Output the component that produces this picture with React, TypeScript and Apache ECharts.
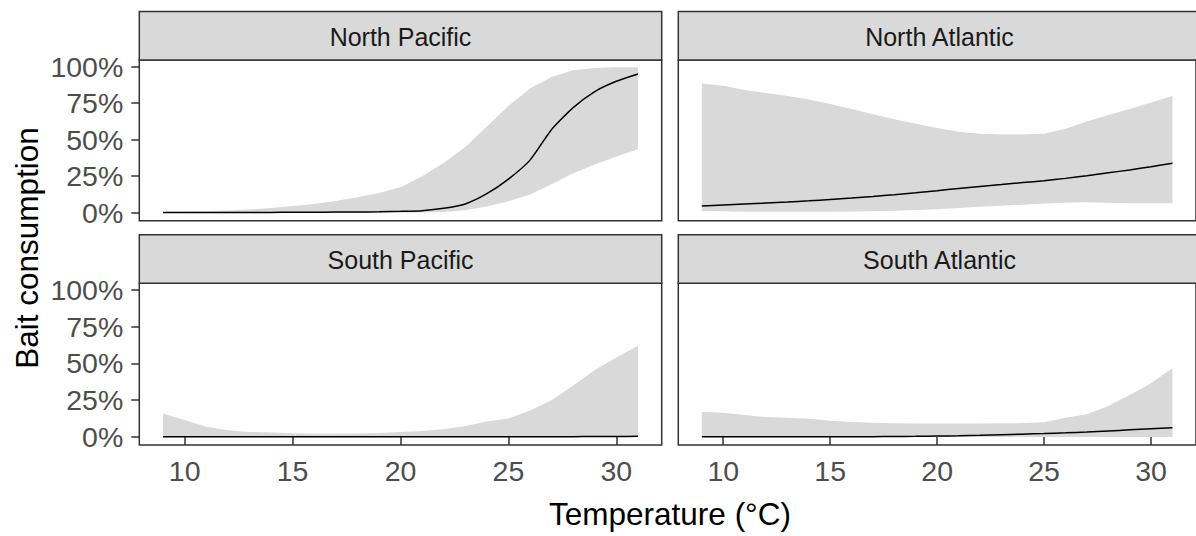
import React, { useEffect, useRef } from "react";
import * as echarts from "echarts";

// Temperature grid (°C) shared by every panel
const TEMPS = [9, 10, 11, 12, 13, 14, 15, 16, 17, 18, 19, 20, 21, 22, 23, 24, 25, 26, 27, 28, 29, 30, 31];

// Fitted bait consumption (%) and 95% interval per ocean basin
const NP_FIT = [0.1, 0.1, 0.1, 0.15, 0.2, 0.2, 0.3, 0.3, 0.4, 0.5, 0.6, 0.9, 1.4, 3, 6, 13, 23, 36, 57, 72, 83, 90, 95];
const NP_LO = [0, 0, 0, 0, 0, 0, 0, 0, 0, 0, 0, 0, 0.1, 0.5, 1.7, 4.2, 7.8, 12.5, 19.5, 27, 33, 38.5, 43.5];
const NP_HI = [0.5, 0.8, 1.0, 1.5, 2.2, 3.2, 4.5, 6, 8, 10.5, 13.5, 17.5, 25, 34, 45, 59, 73, 85, 93, 97.5, 99.2, 99.6, 99.7];

const NA_FIT = [4.5, 5.2, 5.9, 6.6, 7.3, 8.1, 9, 10, 11.1, 12.3, 13.6, 15, 16.6, 18, 19.3, 20.6, 21.9, 23.5, 25.3, 27.3, 29.3, 31.5, 33.8];
const NA_LO = [1.2, 0.9, 0.7, 0.6, 0.6, 0.6, 0.7, 0.8, 1.0, 1.3, 1.8, 2.4, 3.2, 4.0, 4.8, 5.5, 6.2, 6.8, 7.2, 6.8, 6.5, 6.4, 6.4];
const NA_HI = [88.5, 87, 84, 82, 80, 77.5, 74.5, 71, 67.5, 64, 61, 58, 55.5, 54, 53.5, 53.5, 54, 57.5, 62.5, 67, 71, 75.5, 80];

const SP_FIT = [0.1, 0.1, 0.1, 0.1, 0.1, 0.1, 0.1, 0.1, 0.1, 0.1, 0.1, 0.1, 0.1, 0.1, 0.1, 0.1, 0.1, 0.15, 0.2, 0.2, 0.3, 0.3, 0.4];
const SP_LO = [0, 0, 0, 0, 0, 0, 0, 0, 0, 0, 0, 0, 0, 0, 0, 0, 0, 0, 0, 0, 0, 0, 0];
const SP_HI = [16, 11.5, 7, 4.5, 3.4, 3, 2.5, 2.2, 2.2, 2.3, 2.6, 3.3, 4, 5.2, 7.5, 10.5, 12.5, 18, 25, 35, 45.5, 54, 62];

const SA_FIT = [0.1, 0.1, 0.1, 0.1, 0.1, 0.1, 0.1, 0.15, 0.2, 0.3, 0.4, 0.6, 0.8, 1.1, 1.5, 1.9, 2.3, 2.8, 3.4, 4.1, 4.8, 5.5, 6.2];
const SA_LO = [0, 0, 0, 0, 0, 0, 0, 0, 0, 0, 0, 0, 0, 0, 0, 0, 0, 0, 0, 0, 0, 0, 0];
const SA_HI = [17, 16.5, 15, 13.5, 13, 12.3, 11, 10.2, 9.6, 9.3, 9.1, 9.1, 9.1, 9.2, 9.3, 9.4, 10, 13, 15.5, 21, 28.5, 36.5, 47];

const PANEL_NAMES = ["North Pacific", "North Atlantic", "South Pacific", "South Atlantic"];
const X_TICKS = [10, 15, 20, 25, 30];
const Y_TICKS = [0, 25, 50, 75, 100];
const X_TITLE = "Temperature (°C)";
const Y_TITLE = "Bait consumption";

const PANELS = [
  { name: PANEL_NAMES[0], fit: NP_FIT, lo: NP_LO, hi: NP_HI },
  { name: PANEL_NAMES[1], fit: NA_FIT, lo: NA_LO, hi: NA_HI },
  { name: PANEL_NAMES[2], fit: SP_FIT, lo: SP_LO, hi: SP_HI },
  { name: PANEL_NAMES[3], fit: SA_FIT, lo: SA_LO, hi: SA_HI },
];

const FONT = "Liberation Sans, Arial, sans-serif";
const BORDER = "#333333";
const STRIP_FILL = "#D9D9D9";
const BAND_FILL = "#D9D9D9";

// facet layout (px)
const COL_LEFT = [139.3, 678.3];
const PANEL_W = 522.4;
const ROW_TOP = [60, 283.3];
const PANEL_H = [160.7, 161.7];
const STRIP_H = 48.5;

export default function App() {
  const ref = useRef<HTMLDivElement>(null);

  useEffect(() => {
    document.body.style.margin = "0";
    if (!ref.current) return;
    const chart = echarts.init(ref.current, undefined, { renderer: "svg" });

    const grids: any[] = [];
    const xAxes: any[] = [];
    const yAxes: any[] = [];
    const series: any[] = [];
    const graphics: any[] = [];

    PANELS.forEach((p, i) => {
      const col = i % 2;
      const row = Math.floor(i / 2);
      const left = COL_LEFT[col];
      const top = ROW_TOP[row];
      const h = PANEL_H[row];
      grids.push({
        left,
        top,
        width: PANEL_W,
        height: h,
        show: true,
        borderColor: BORDER,
        borderWidth: 1.5,
        backgroundColor: "transparent",
        z: 5,
      });
      const showX = row === 1;
      const showY = col === 0;
      xAxes.push({
        gridIndex: i,
        type: "value",
        min: 7.9,
        max: 32.1,
        axisLine: { show: false },
        splitLine: { show: false },
        axisTick: {
          show: showX,
          length: 8,
          customValues: X_TICKS,
          lineStyle: { color: BORDER, width: 1.5 },
        },
        axisLabel: {
          show: showX,
          customValues: X_TICKS,
          margin: 11,
          fontSize: 28.5,
          fontFamily: FONT,
          color: "#4D4D4D",
        },
      });
      yAxes.push({
        gridIndex: i,
        type: "value",
        min: -5.5,
        max: 104.6,
        axisLine: { show: false },
        splitLine: { show: false },
        axisTick: {
          show: showY,
          length: 8,
          customValues: Y_TICKS,
          lineStyle: { color: BORDER, width: 1.5 },
        },
        axisLabel: {
          show: showY,
          customValues: Y_TICKS,
          margin: 16,
          fontSize: 28.5,
          fontFamily: FONT,
          color: "#4D4D4D",
          formatter: (v: number) => `${v}%`,
        },
      });

      // confidence band: upper edge forward, lower edge back, mapped through the axes
      series.push({
        type: "custom",
        xAxisIndex: i,
        yAxisIndex: i,
        silent: true,
        z: 1,
        data: [[TEMPS[0], p.lo[0]]],
        renderItem: (_params: any, api: any) => {
          const pts: number[][] = [];
          TEMPS.forEach((t, k) => pts.push(api.coord([t, p.hi[k]])));
          for (let k = TEMPS.length - 1; k >= 0; k--) pts.push(api.coord([TEMPS[k], p.lo[k]]));
          return {
            type: "polygon",
            shape: { points: pts },
            style: { fill: BAND_FILL },
          };
        },
      });
      series.push({
        type: "line",
        xAxisIndex: i,
        yAxisIndex: i,
        symbol: "none",
        silent: true,
        smooth: 0.2,
        z: 4,
        lineStyle: { color: "#000000", width: 1.5 },
        data: TEMPS.map((t, k) => [t, p.fit[k]]),
      });

      // facet strip
      graphics.push({
        type: "rect",
        shape: { x: left, y: top - STRIP_H, width: PANEL_W, height: STRIP_H },
        style: { fill: STRIP_FILL, stroke: BORDER, lineWidth: 1.5 },
        z: 10,
      });
      graphics.push({
        type: "text",
        x: left + PANEL_W / 2,
        y: top - STRIP_H / 2 + 1,
        style: {
          text: p.name,
          fontSize: 25,
          fontFamily: FONT,
          fill: "#1A1A1A",
          align: "center",
          verticalAlign: "middle",
        },
        z: 11,
      });
    });

    graphics.push({
      type: "text",
      x: 670,
      y: 514,
      style: {
        text: X_TITLE,
        fontSize: 31.5,
        fontFamily: FONT,
        fill: "#000000",
        align: "center",
        verticalAlign: "middle",
      },
    });
    graphics.push({
      type: "text",
      x: 26.6,
      y: 248,
      rotation: Math.PI / 2,
      style: {
        text: Y_TITLE,
        fontSize: 31.5,
        fontFamily: FONT,
        fill: "#000000",
        align: "center",
        verticalAlign: "middle",
      },
    });

    chart.setOption({
      animation: false,
      backgroundColor: "#FFFFFF",
      grid: grids,
      xAxis: xAxes,
      yAxis: yAxes,
      series,
      graphic: graphics,
    });

    return () => chart.dispose();
  }, []);

  return <div ref={ref} style={{ width: 1196, height: 536 }} />;
}
